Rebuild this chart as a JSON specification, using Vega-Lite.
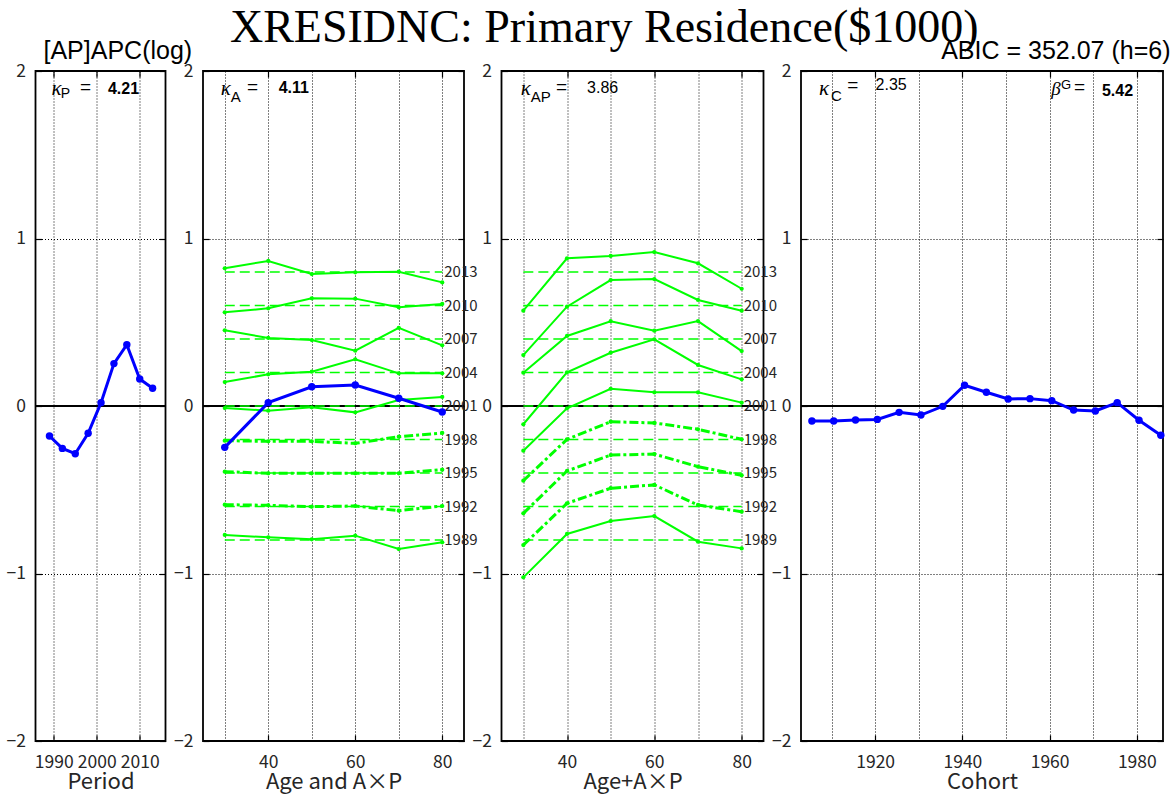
{
  "$schema": "https://vega.github.io/schema/vega-lite/v6.json",
  "background": "white",
  "padding": {"left": 4.5, "top": 5, "right": 0, "bottom": 0},
  "title": {"text": "XRESIDNC: Primary Residence($1000)", "font": "Liberation Serif", "fontSize": 46, "fontWeight": "normal", "color": "black", "anchor": "middle", "baseline": "alphabetic", "offset": -50, "dx": 16},
  "spacing": 37.5,
  "bounds": "flush",
  "datasets": {
    "one": [{}],
    "period": [
      {"period": 1989, "effect": -0.179}, {"period": 1992, "effect": -0.253}, {"period": 1995, "effect": -0.285},
      {"period": 1998, "effect": -0.163}, {"period": 2001, "effect": 0.020}, {"period": 2004, "effect": 0.253},
      {"period": 2007, "effect": 0.366}, {"period": 2010, "effect": 0.161}, {"period": 2013, "effect": 0.106}
    ],
    "age": [
      {"age": 30, "effect": -0.247}, {"age": 40, "effect": 0.020}, {"age": 50, "effect": 0.115},
      {"age": 60, "effect": 0.125}, {"age": 70, "effect": 0.046}, {"age": 80, "effect": -0.036}
    ],
    "offsets": [
      {"period": 1989, "level": -0.8}, {"period": 1992, "level": -0.6}, {"period": 1995, "level": -0.4},
      {"period": 1998, "level": -0.2}, {"period": 2001, "level": 0.0}, {"period": 2004, "level": 0.2},
      {"period": 2007, "level": 0.4}, {"period": 2010, "level": 0.6}, {"period": 2013, "level": 0.8}
    ],
    "ap": [
      {"period": 2013, "age": 30, "v2": 0.822, "v3": 0.569}, {"period": 2013, "age": 40, "v2": 0.866, "v3": 0.882}, {"period": 2013, "age": 50, "v2": 0.788, "v3": 0.896},
      {"period": 2013, "age": 60, "v2": 0.798, "v3": 0.919}, {"period": 2013, "age": 70, "v2": 0.802, "v3": 0.852}, {"period": 2013, "age": 80, "v2": 0.738, "v3": 0.700},
      {"period": 2010, "age": 30, "v2": 0.559, "v3": 0.304}, {"period": 2010, "age": 40, "v2": 0.583, "v3": 0.593}, {"period": 2010, "age": 50, "v2": 0.643, "v3": 0.752},
      {"period": 2010, "age": 60, "v2": 0.641, "v3": 0.758}, {"period": 2010, "age": 70, "v2": 0.589, "v3": 0.633}, {"period": 2010, "age": 80, "v2": 0.609, "v3": 0.569},
      {"period": 2007, "age": 30, "v2": 0.452, "v3": 0.199}, {"period": 2007, "age": 40, "v2": 0.406, "v3": 0.418}, {"period": 2007, "age": 50, "v2": 0.394, "v3": 0.506},
      {"period": 2007, "age": 60, "v2": 0.330, "v3": 0.450}, {"period": 2007, "age": 70, "v2": 0.467, "v3": 0.507}, {"period": 2007, "age": 80, "v2": 0.362, "v3": 0.328},
      {"period": 2004, "age": 30, "v2": 0.143, "v3": -0.109}, {"period": 2004, "age": 40, "v2": 0.189, "v3": 0.201}, {"period": 2004, "age": 50, "v2": 0.205, "v3": 0.318},
      {"period": 2004, "age": 60, "v2": 0.279, "v3": 0.398}, {"period": 2004, "age": 70, "v2": 0.195, "v3": 0.245}, {"period": 2004, "age": 80, "v2": 0.195, "v3": 0.159},
      {"period": 2001, "age": 30, "v2": -0.012, "v3": -0.267}, {"period": 2001, "age": 40, "v2": -0.028, "v3": -0.014}, {"period": 2001, "age": 50, "v2": -0.008, "v3": 0.103},
      {"period": 2001, "age": 60, "v2": -0.038, "v3": 0.082}, {"period": 2001, "age": 70, "v2": 0.036, "v3": 0.082}, {"period": 2001, "age": 80, "v2": 0.054, "v3": 0.020},
      {"period": 1998, "age": 30, "v2": -0.207, "v3": -0.446}, {"period": 1998, "age": 40, "v2": -0.211, "v3": -0.199}, {"period": 1998, "age": 50, "v2": -0.211, "v3": -0.094},
      {"period": 1998, "age": 60, "v2": -0.223, "v3": -0.101}, {"period": 1998, "age": 70, "v2": -0.183, "v3": -0.139}, {"period": 1998, "age": 80, "v2": -0.161, "v3": -0.199},
      {"period": 1995, "age": 30, "v2": -0.392, "v3": -0.641}, {"period": 1995, "age": 40, "v2": -0.402, "v3": -0.388}, {"period": 1995, "age": 50, "v2": -0.402, "v3": -0.293},
      {"period": 1995, "age": 60, "v2": -0.402, "v3": -0.287}, {"period": 1995, "age": 70, "v2": -0.402, "v3": -0.362}, {"period": 1995, "age": 80, "v2": -0.380, "v3": -0.414},
      {"period": 1992, "age": 30, "v2": -0.589, "v3": -0.830}, {"period": 1992, "age": 40, "v2": -0.593, "v3": -0.581}, {"period": 1992, "age": 50, "v2": -0.601, "v3": -0.491},
      {"period": 1992, "age": 60, "v2": -0.597, "v3": -0.471}, {"period": 1992, "age": 70, "v2": -0.625, "v3": -0.591}, {"period": 1992, "age": 80, "v2": -0.597, "v3": -0.631},
      {"period": 1989, "age": 30, "v2": -0.770, "v3": -1.023}, {"period": 1989, "age": 40, "v2": -0.784, "v3": -0.764}, {"period": 1989, "age": 50, "v2": -0.796, "v3": -0.687},
      {"period": 1989, "age": 60, "v2": -0.774, "v3": -0.657}, {"period": 1989, "age": 70, "v2": -0.854, "v3": -0.810}, {"period": 1989, "age": 80, "v2": -0.814, "v3": -0.850}
    ],
    "cohort": [
      {"cohort": 1905.5, "effect": -0.090}, {"cohort": 1910.5, "effect": -0.090}, {"cohort": 1915.5, "effect": -0.084},
      {"cohort": 1920.5, "effect": -0.080}, {"cohort": 1925.5, "effect": -0.038}, {"cohort": 1930.5, "effect": -0.054},
      {"cohort": 1935.5, "effect": -0.002}, {"cohort": 1940.5, "effect": 0.124}, {"cohort": 1945.5, "effect": 0.082},
      {"cohort": 1950.5, "effect": 0.042}, {"cohort": 1955.5, "effect": 0.044}, {"cohort": 1960.5, "effect": 0.032},
      {"cohort": 1965.5, "effect": -0.024}, {"cohort": 1970.5, "effect": -0.030}, {"cohort": 1975.5, "effect": 0.020},
      {"cohort": 1980.5, "effect": -0.085}, {"cohort": 1985.5, "effect": -0.175}
    ]
  },
  "config": {
    "view": {"stroke": "black", "strokeWidth": 1.8},
    "axis": {"domain": false, "grid": false, "labelFont": "Noto Sans CJK JP", "labelFontSize": 17.5, "labelColor": "#262626", "titleFont": "Noto Sans CJK JP", "titleFontSize": 22, "titleFontWeight": "normal", "titleColor": "#262626", "gridColor": "black", "gridDash": [1, 2], "gridWidth": 1, "gridOpacity": 1, "tickColor": "black", "tickWidth": 1.2, "tickSize": -6, "labelFlush": false, "labelOverlap": false, "labelBound": false},
    "text": {"font": "Liberation Sans", "color": "black"}
  },
  "hconcat": [
    {
      "width": 130, "height": 670,
      "title": {"text": "[AP]APC(log)", "anchor": "start", "frame": "group", "dx": 8, "font": "Liberation Sans", "fontSize": 25, "fontWeight": "normal", "color": "black", "baseline": "alphabetic", "offset": -22},
      "resolve": {"axis": {"x": "independent", "y": "independent"}},
      "layer": [
        {"data": {"name": "one"}, "mark": {"type": "rule", "color": "black", "strokeWidth": 2}, "encoding": {"y": {"datum": 0, "type": "quantitative", "scale": {"domain": [-2, 2], "nice": false, "zero": false}, "axis": null}}},
        {"data": {"name": "period"}, "mark": {"type": "line", "color": "#0000ff", "strokeWidth": 3},
         "encoding": {
           "x": {"field": "period", "type": "quantitative", "scale": {"domain": [1985.75, 2016], "nice": false, "zero": false}, "axis": {"values": [1990, 2000, 2010], "format": "d", "grid": true, "title": "Period", "labelPadding": 18, "titlePadding": 1}},
           "y": {"field": "effect", "type": "quantitative", "scale": {"domain": [-2, 2], "nice": false, "zero": false}, "axis": {"values": [-2, -1, 0, 1, 2], "format": "d", "grid": true, "title": null, "labelPadding": 16}}}},
        {"data": {"name": "period"}, "mark": {"type": "circle", "color": "#0000ff", "size": 55, "opacity": 1},
         "encoding": {
           "x": {"field": "period", "type": "quantitative", "scale": {"domain": [1985.75, 2016], "nice": false, "zero": false}, "axis": {"orient": "top", "values": [1990, 2000, 2010], "labels": false, "title": null, "grid": false}},
           "y": {"field": "effect", "type": "quantitative", "scale": {"domain": [-2, 2], "nice": false, "zero": false}, "axis": {"orient": "right", "values": [-2, -1, 0, 1, 2], "labels": false, "title": null, "grid": false}}}},
        {"data": {"name": "one"}, "mark": {"type": "text", "align": "left", "baseline": "middle", "fontSize": 21, "font": "Liberation Serif", "fontStyle": "italic"}, "encoding": {"x": {"datum": 1989.5, "type": "quantitative", "axis": null}, "y": {"datum": 1.89, "type": "quantitative", "axis": null}, "text": {"value": "κ"}}},
        {"data": {"name": "one"}, "mark": {"type": "text", "align": "left", "baseline": "middle", "fontSize": 14}, "encoding": {"x": {"datum": 1991.6, "type": "quantitative", "axis": null}, "y": {"datum": 1.86, "type": "quantitative", "axis": null}, "text": {"value": "P"}}},
        {"data": {"name": "one"}, "mark": {"type": "text", "align": "left", "baseline": "middle", "fontSize": 19}, "encoding": {"x": {"datum": 1996.1, "type": "quantitative", "axis": null}, "y": {"datum": 1.905, "type": "quantitative", "axis": null}, "text": {"value": "="}}},
        {"data": {"name": "one"}, "mark": {"type": "text", "align": "left", "baseline": "middle", "fontSize": 16, "fontWeight": "bold"}, "encoding": {"x": {"datum": 2002.6, "type": "quantitative", "axis": null}, "y": {"datum": 1.89, "type": "quantitative", "axis": null}, "text": {"value": "4.21"}}}
      ]
    },
    {
      "width": 261, "height": 670,
      "resolve": {"axis": {"x": "independent", "y": "independent"}},
      "layer": [
        {"data": {"name": "one"}, "mark": {"type": "rule", "color": "black", "strokeWidth": 2}, "encoding": {"y": {"datum": 0, "type": "quantitative", "scale": {"domain": [-2, 2], "nice": false, "zero": false}, "axis": null}}},
        {"data": {"name": "offsets"}, "mark": {"type": "rule", "color": "#00ff00", "strokeWidth": 1.5, "strokeDash": [10, 5]},
         "encoding": {"x": {"datum": 30, "type": "quantitative", "scale": {"domain": [25, 85], "nice": false, "zero": false}, "axis": null}, "x2": {"datum": 80}, "y": {"field": "level", "type": "quantitative", "scale": {"domain": [-2, 2], "nice": false, "zero": false}, "axis": null}}},
        {"data": {"name": "offsets"}, "mark": {"type": "text", "align": "left", "baseline": "middle", "dx": 2, "fontSize": 15, "font": "Noto Sans CJK JP", "color": "#262626"},
         "encoding": {"x": {"datum": 80, "type": "quantitative", "axis": null}, "y": {"field": "level", "type": "quantitative", "axis": null}, "text": {"field": "period"}}},
        {"data": {"name": "ap"}, "transform": [{"filter": "datum.period >= 2001 || datum.period == 1989"}],
         "mark": {"type": "line", "color": "#00ff00", "strokeWidth": 2, "point": {"filled": true, "size": 18, "color": "#00ff00"}},
         "encoding": {"x": {"field": "age", "type": "quantitative", "scale": {"domain": [25, 85], "nice": false, "zero": false}, "axis": null}, "y": {"field": "v2", "type": "quantitative", "scale": {"domain": [-2, 2], "nice": false, "zero": false}, "axis": null}, "detail": {"field": "period"}}},
        {"data": {"name": "ap"}, "transform": [{"filter": "datum.period > 1989 && datum.period < 2001"}],
         "mark": {"type": "line", "color": "#00ff00", "strokeWidth": 3, "strokeDash": [9, 3, 3, 3], "point": {"filled": true, "size": 18, "color": "#00ff00"}},
         "encoding": {"x": {"field": "age", "type": "quantitative", "scale": {"domain": [25, 85], "nice": false, "zero": false}, "axis": null}, "y": {"field": "v2", "type": "quantitative", "scale": {"domain": [-2, 2], "nice": false, "zero": false}, "axis": null}, "detail": {"field": "period"}}},
        {"data": {"name": "age"}, "mark": {"type": "line", "color": "#0000ff", "strokeWidth": 3},
         "encoding": {
           "x": {"field": "age", "type": "quantitative", "scale": {"domain": [25, 85], "nice": false, "zero": false}, "axis": {"values": [30, 40, 50, 60, 70, 80], "format": "d", "grid": true, "title": "Age and A×P", "labelPadding": 18, "titlePadding": 1, "labelExpr": "datum.value % 20 == 0 ? datum.label : ''", "tickOpacity": {"condition": {"test": "datum.value % 20 == 0", "value": 1}, "value": 0}}},
           "y": {"field": "effect", "type": "quantitative", "scale": {"domain": [-2, 2], "nice": false, "zero": false}, "axis": {"values": [-2, -1, 0, 1, 2], "format": "d", "grid": true, "title": null, "labelPadding": 16}}}},
        {"data": {"name": "age"}, "mark": {"type": "circle", "color": "#0000ff", "size": 55, "opacity": 1},
         "encoding": {
           "x": {"field": "age", "type": "quantitative", "scale": {"domain": [25, 85], "nice": false, "zero": false}, "axis": {"orient": "top", "values": [30, 40, 50, 60, 70, 80], "labels": false, "title": null, "grid": false, "tickOpacity": {"condition": {"test": "datum.value % 20 == 0", "value": 1}, "value": 0}}},
           "y": {"field": "effect", "type": "quantitative", "scale": {"domain": [-2, 2], "nice": false, "zero": false}, "axis": {"orient": "right", "values": [-2, -1, 0, 1, 2], "labels": false, "title": null, "grid": false}}}},
        {"data": {"name": "one"}, "mark": {"type": "text", "align": "left", "baseline": "middle", "fontSize": 21, "font": "Liberation Serif", "fontStyle": "italic"}, "encoding": {"x": {"datum": 29.1, "type": "quantitative", "axis": null}, "y": {"datum": 1.89, "type": "quantitative", "axis": null}, "text": {"value": "κ"}}},
        {"data": {"name": "one"}, "mark": {"type": "text", "align": "left", "baseline": "middle", "fontSize": 15}, "encoding": {"x": {"datum": 31.4, "type": "quantitative", "axis": null}, "y": {"datum": 1.845, "type": "quantitative", "axis": null}, "text": {"value": "A"}}},
        {"data": {"name": "one"}, "mark": {"type": "text", "align": "left", "baseline": "middle", "fontSize": 19}, "encoding": {"x": {"datum": 35.1, "type": "quantitative", "axis": null}, "y": {"datum": 1.905, "type": "quantitative", "axis": null}, "text": {"value": "="}}},
        {"data": {"name": "one"}, "mark": {"type": "text", "align": "left", "baseline": "middle", "fontSize": 16, "fontWeight": "bold"}, "encoding": {"x": {"datum": 42.4, "type": "quantitative", "axis": null}, "y": {"datum": 1.9, "type": "quantitative", "axis": null}, "text": {"value": "4.11"}}}
      ]
    },
    {
      "width": 262, "height": 670,
      "resolve": {"axis": {"x": "independent", "y": "independent"}},
      "layer": [
        {"data": {"name": "one"}, "mark": {"type": "rule", "color": "black", "strokeWidth": 2}, "encoding": {"y": {"datum": 0, "type": "quantitative", "scale": {"domain": [-2, 2], "nice": false, "zero": false}, "axis": null}}},
        {"data": {"name": "offsets"}, "mark": {"type": "rule", "color": "#00ff00", "strokeWidth": 1.5, "strokeDash": [10, 5]},
         "encoding": {"x": {"datum": 30, "type": "quantitative", "scale": {"domain": [25, 85], "nice": false, "zero": false}, "axis": null}, "x2": {"datum": 80}, "y": {"field": "level", "type": "quantitative", "scale": {"domain": [-2, 2], "nice": false, "zero": false}, "axis": null}}},
        {"data": {"name": "offsets"}, "mark": {"type": "text", "align": "left", "baseline": "middle", "dx": 2, "fontSize": 15, "font": "Noto Sans CJK JP", "color": "#262626"},
         "encoding": {"x": {"datum": 80, "type": "quantitative", "axis": null}, "y": {"field": "level", "type": "quantitative", "axis": null}, "text": {"field": "period"}}},
        {"data": {"name": "ap"}, "transform": [{"filter": "datum.period >= 2001 || datum.period == 1989"}],
         "mark": {"type": "line", "color": "#00ff00", "strokeWidth": 2, "point": {"filled": true, "size": 18, "color": "#00ff00"}},
         "encoding": {"x": {"field": "age", "type": "quantitative", "scale": {"domain": [25, 85], "nice": false, "zero": false}, "axis": {"values": [30, 40, 50, 60, 70, 80], "format": "d", "grid": true, "title": "Age+A×P", "labelPadding": 18, "titlePadding": 1, "labelExpr": "datum.value % 20 == 0 ? datum.label : ''", "tickOpacity": {"condition": {"test": "datum.value % 20 == 0", "value": 1}, "value": 0}}},
           "y": {"field": "v3", "type": "quantitative", "scale": {"domain": [-2, 2], "nice": false, "zero": false}, "axis": {"values": [-2, -1, 0, 1, 2], "format": "d", "grid": true, "title": null, "labelPadding": 16}}, "detail": {"field": "period"}}},
        {"data": {"name": "ap"}, "transform": [{"filter": "datum.period > 1989 && datum.period < 2001"}],
         "mark": {"type": "line", "color": "#00ff00", "strokeWidth": 3, "strokeDash": [9, 3, 3, 3], "point": {"filled": true, "size": 18, "color": "#00ff00"}},
         "encoding": {"x": {"field": "age", "type": "quantitative", "scale": {"domain": [25, 85], "nice": false, "zero": false}, "axis": {"orient": "top", "values": [30, 40, 50, 60, 70, 80], "labels": false, "title": null, "grid": false, "tickOpacity": {"condition": {"test": "datum.value % 20 == 0", "value": 1}, "value": 0}}},
           "y": {"field": "v3", "type": "quantitative", "scale": {"domain": [-2, 2], "nice": false, "zero": false}, "axis": {"orient": "right", "values": [-2, -1, 0, 1, 2], "labels": false, "title": null, "grid": false}}, "detail": {"field": "period"}}},
        {"data": {"name": "one"}, "mark": {"type": "text", "align": "left", "baseline": "middle", "fontSize": 21, "font": "Liberation Serif", "fontStyle": "italic"}, "encoding": {"x": {"datum": 29.4, "type": "quantitative", "axis": null}, "y": {"datum": 1.89, "type": "quantitative", "axis": null}, "text": {"value": "κ"}}},
        {"data": {"name": "one"}, "mark": {"type": "text", "align": "left", "baseline": "middle", "fontSize": 15}, "encoding": {"x": {"datum": 31.7, "type": "quantitative", "axis": null}, "y": {"datum": 1.845, "type": "quantitative", "axis": null}, "text": {"value": "AP"}}},
        {"data": {"name": "one"}, "mark": {"type": "text", "align": "left", "baseline": "middle", "fontSize": 19}, "encoding": {"x": {"datum": 37.5, "type": "quantitative", "axis": null}, "y": {"datum": 1.905, "type": "quantitative", "axis": null}, "text": {"value": "="}}},
        {"data": {"name": "one"}, "mark": {"type": "text", "align": "left", "baseline": "middle", "fontSize": 16}, "encoding": {"x": {"datum": 44.6, "type": "quantitative", "axis": null}, "y": {"datum": 1.9, "type": "quantitative", "axis": null}, "text": {"value": "3.86"}}}
      ]
    },
    {
      "width": 362, "height": 670,
      "title": {"text": "ABIC = 352.07 (h=6)", "anchor": "end", "frame": "group", "dx": 7.5, "font": "Liberation Sans", "fontSize": 25, "fontWeight": "normal", "color": "black", "baseline": "alphabetic", "offset": -22},
      "resolve": {"axis": {"x": "independent", "y": "independent"}},
      "layer": [
        {"data": {"name": "one"}, "mark": {"type": "rule", "color": "black", "strokeWidth": 2}, "encoding": {"y": {"datum": 0, "type": "quantitative", "scale": {"domain": [-2, 2], "nice": false, "zero": false}, "axis": null}}},
        {"data": {"name": "cohort"}, "mark": {"type": "line", "color": "#0000ff", "strokeWidth": 3},
         "encoding": {
           "x": {"field": "cohort", "type": "quantitative", "scale": {"domain": [1903, 1986], "nice": false, "zero": false}, "axis": {"values": [1910, 1920, 1930, 1940, 1950, 1960, 1970, 1980], "format": "d", "grid": true, "title": "Cohort", "labelPadding": 18, "titlePadding": 1, "labelExpr": "datum.value % 20 == 0 ? datum.label : ''", "tickOpacity": {"condition": {"test": "datum.value % 20 == 0", "value": 1}, "value": 0}}},
           "y": {"field": "effect", "type": "quantitative", "scale": {"domain": [-2, 2], "nice": false, "zero": false}, "axis": {"values": [-2, -1, 0, 1, 2], "format": "d", "grid": true, "title": null, "labelPadding": 16}}}},
        {"data": {"name": "cohort"}, "mark": {"type": "circle", "color": "#0000ff", "size": 55, "opacity": 1},
         "encoding": {
           "x": {"field": "cohort", "type": "quantitative", "scale": {"domain": [1903, 1986], "nice": false, "zero": false}, "axis": {"orient": "top", "values": [1910, 1920, 1930, 1940, 1950, 1960, 1970, 1980], "labels": false, "title": null, "grid": false, "tickOpacity": {"condition": {"test": "datum.value % 20 == 0", "value": 1}, "value": 0}}},
           "y": {"field": "effect", "type": "quantitative", "scale": {"domain": [-2, 2], "nice": false, "zero": false}, "axis": {"orient": "right", "values": [-2, -1, 0, 1, 2], "labels": false, "title": null, "grid": false}}}},
        {"data": {"name": "one"}, "mark": {"type": "text", "align": "left", "baseline": "middle", "fontSize": 21, "font": "Liberation Serif", "fontStyle": "italic"}, "encoding": {"x": {"datum": 1907.1, "type": "quantitative", "axis": null}, "y": {"datum": 1.895, "type": "quantitative", "axis": null}, "text": {"value": "κ"}}},
        {"data": {"name": "one"}, "mark": {"type": "text", "align": "left", "baseline": "middle", "fontSize": 15}, "encoding": {"x": {"datum": 1909.9, "type": "quantitative", "axis": null}, "y": {"datum": 1.852, "type": "quantitative", "axis": null}, "text": {"value": "C"}}},
        {"data": {"name": "one"}, "mark": {"type": "text", "align": "left", "baseline": "middle", "fontSize": 19}, "encoding": {"x": {"datum": 1913.6, "type": "quantitative", "axis": null}, "y": {"datum": 1.915, "type": "quantitative", "axis": null}, "text": {"value": "="}}},
        {"data": {"name": "one"}, "mark": {"type": "text", "align": "left", "baseline": "middle", "fontSize": 16}, "encoding": {"x": {"datum": 1920.1, "type": "quantitative", "axis": null}, "y": {"datum": 1.915, "type": "quantitative", "axis": null}, "text": {"value": "2.35"}}},
        {"data": {"name": "one"}, "mark": {"type": "text", "align": "left", "baseline": "middle", "fontSize": 19, "font": "Liberation Serif", "fontStyle": "italic"}, "encoding": {"x": {"datum": 1960.4, "type": "quantitative", "axis": null}, "y": {"datum": 1.89, "type": "quantitative", "axis": null}, "text": {"value": "β"}}},
        {"data": {"name": "one"}, "mark": {"type": "text", "align": "left", "baseline": "middle", "fontSize": 13}, "encoding": {"x": {"datum": 1962.6, "type": "quantitative", "axis": null}, "y": {"datum": 1.918, "type": "quantitative", "axis": null}, "text": {"value": "G"}}},
        {"data": {"name": "one"}, "mark": {"type": "text", "align": "left", "baseline": "middle", "fontSize": 19}, "encoding": {"x": {"datum": 1965.6, "type": "quantitative", "axis": null}, "y": {"datum": 1.905, "type": "quantitative", "axis": null}, "text": {"value": "="}}},
        {"data": {"name": "one"}, "mark": {"type": "text", "align": "left", "baseline": "middle", "fontSize": 16, "fontWeight": "bold"}, "encoding": {"x": {"datum": 1972.0, "type": "quantitative", "axis": null}, "y": {"datum": 1.882, "type": "quantitative", "axis": null}, "text": {"value": "5.42"}}}
      ]
    }
  ]
}
